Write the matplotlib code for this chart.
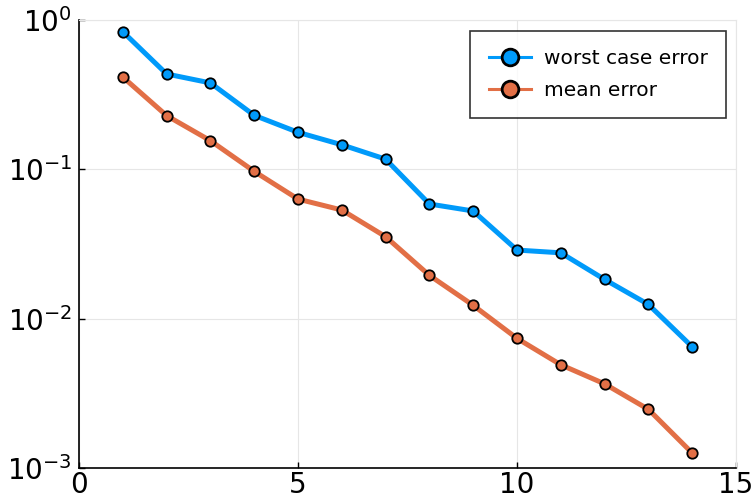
import numpy as np
import matplotlib.pyplot as plt

# error per iteration
n = np.arange(1, 15)
worst_err = [0.835, 0.435, 0.379, 0.230, 0.177, 0.146, 0.117,
             0.0586, 0.0526, 0.0288, 0.0276, 0.0183, 0.01245, 0.00648]
mean_err = [0.415, 0.229, 0.1555, 0.0969, 0.0632, 0.0534, 0.0354,
            0.0195, 0.01228, 0.00738, 0.00491, 0.00366, 0.00247, 0.00126]

c_blue = "#009AFA"
c_orange = "#E26F46"

fig = plt.figure(figsize=(7.54, 4.99), dpi=100)
ax = fig.add_axes([79/754, 1 - 468/499, (736-79)/754, (468-20)/499])

ax.plot(n, worst_err, color=c_blue, lw=3.6, marker="o", ms=7.5,
        mfc=c_blue, mec="black", mew=1.3, label="worst case error")
ax.plot(n, mean_err, color=c_orange, lw=3.6, marker="o", ms=7.5,
        mfc=c_orange, mec="black", mew=1.3, label="mean error")

ax.set_yscale("log")
ax.set_xlim(0, 15)
ax.set_ylim(1e-3, 1e0)
ax.set_xticks([0, 5, 10, 15])
ax.set_yticks([1e-3, 1e-2, 1e-1, 1e0])
ax.minorticks_off()
ax.grid(True, color="#e6e6e6", lw=0.8)
ax.set_axisbelow(True)

for s in ["top", "right"]:
    ax.spines[s].set_color("#e6e6e6")
    ax.spines[s].set_linewidth(0.8)
for s in ["left", "bottom"]:
    ax.spines[s].set_color("black")
    ax.spines[s].set_linewidth(1.2)

ax.tick_params(direction="in", length=4, width=1, labelsize=20)
ax.tick_params(axis="x", pad=2)
ax.tick_params(axis="y", pad=5)

leg = ax.legend(loc="upper right", fontsize=14.5, frameon=True, fancybox=False,
                edgecolor="black", borderpad=0.9, labelspacing=0.65,
                handlelength=2.1, handletextpad=0.65, markerscale=1.6,
                borderaxespad=0,
                bbox_to_anchor=(726/754, 1 - 31/499),
                bbox_transform=fig.transFigure)
leg.get_frame().set_linewidth(1.2)
for h in leg.legend_handles:
    h.set_linewidth(2.2)
    h.set_markeredgewidth(2)

fig.savefig("out.png", dpi=100)
